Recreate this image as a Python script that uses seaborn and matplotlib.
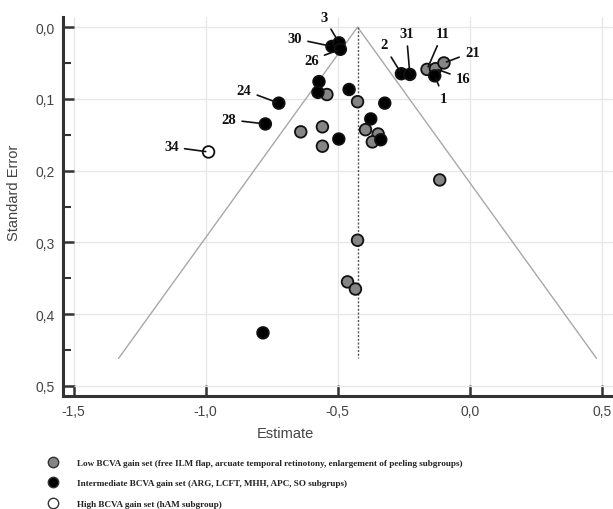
import matplotlib
matplotlib.use("Agg")
import matplotlib.pyplot as plt
import seaborn as sns
import pandas as pd
import numpy as np
from matplotlib.ticker import FuncFormatter, MultipleLocator
from matplotlib.lines import Line2D

# ---------------- data ----------------
low_est = [-0.162, -0.130, -0.098, -0.541, -0.425, -0.395, -0.347, -0.369,
           -0.558, -0.558, -0.640, -0.114, -0.425, -0.463, -0.433]
low_se = [0.059, 0.058, 0.050, 0.094, 0.104, 0.143, 0.149, 0.160,
          0.139, 0.166, 0.146, 0.213, 0.297, 0.355, 0.365]
low_id = ["11", "16", "21", "", "", "", "", "", "", "", "", "", "", "", ""]

mid_est = [-0.522, -0.495, -0.490, -0.259, -0.227, -0.133, -0.571, -0.575,
           -0.457, -0.322, -0.375, -0.337, -0.496, -0.723, -0.774, -0.783]
mid_se = [0.027, 0.022, 0.031, 0.065, 0.066, 0.068, 0.076, 0.091,
          0.087, 0.106, 0.128, 0.157, 0.156, 0.106, 0.135, 0.426]
mid_id = ["30", "3", "26", "2", "31", "1", "", "", "", "", "", "", "", "24", "28", ""]

high_est = [-0.989]
high_se = [0.174]
high_id = ["34"]

group_names = ["Low", "Intermediate", "High"]
legend_labels = [
    "Low BCVA gain set (free ILM flap, arcuate temporal retinotony, enlargement of peeling subgroups)",
    "Intermediate BCVA gain set (ARG, LCFT, MHH, APC, SO subgrups)",
    "High BCVA gain set (hAM subgroup)",
]

pooled = -0.425
se_max = 0.4616

# label text positions (data coords) for numbered studies
label_pos = {
    "3": (-0.553, -0.014), "30": (-0.663, 0.016), "26": (-0.600, 0.046),
    "2": (-0.326, 0.025), "31": (-0.240, 0.009), "11": (-0.103, 0.009),
    "21": (0.010, 0.035), "16": (-0.025, 0.072), "1": (-0.098, 0.099),
    "24": (-0.855, 0.088), "28": (-0.913, 0.129), "34": (-1.130, 0.167),
}

df = pd.DataFrame({
    "Estimate": low_est + mid_est + high_est,
    "SE": low_se + mid_se + high_se,
    "group": [group_names[0]] * len(low_est) + [group_names[1]] * len(mid_est)
             + [group_names[2]] * len(high_est),
    "id": low_id + mid_id + high_id,
})

palette = {"Low": "#858585", "Intermediate": "#000000", "High": "#ffffff"}

# ---------------- figure ----------------
sns.set_theme(style="white")
plt.rcParams["font.family"] = ["Liberation Sans", "DejaVu Sans"]

fig = plt.figure(figsize=(6.13, 5.10), dpi=100)
ax = fig.add_axes([63 / 613, 1 - 397 / 510, 550 / 613, 379 / 510])

# funnel
ax.plot([pooled - 1.96 * se_max, pooled, pooled + 1.96 * se_max],
        [se_max, 0, se_max], color="#a8a8a8", lw=1.0, zorder=2)
ax.plot([pooled, pooled], [0, se_max], color="#555555", lw=1.0,
        linestyle=(0, (1.5, 1.2)), zorder=2)

sns.scatterplot(data=df, x="Estimate", y="SE", hue="group",
                hue_order=group_names, palette=palette, s=70,
                edgecolor="#111111", linewidth=1.3, ax=ax, zorder=5,
                legend=False)

# labels with leader lines
for _, r in df.iterrows():
    if r["id"]:
        tx, ty = label_pos[r["id"]]
        ax.annotate(r["id"], xy=(r["Estimate"], r["SE"]), xytext=(tx, ty),
                    ha="center", va="center", fontsize=10.5, fontweight="bold",
                    family=["Liberation Serif", "DejaVu Serif"], color="#111111",
                    annotation_clip=False,
                    arrowprops=dict(arrowstyle="-", color="#111111", lw=1.2,
                                    shrinkA=2, shrinkB=2), zorder=6)

ax.set_xlim(-1.54, 0.542)
ax.set_ylim(0.514, -0.014)
ax.xaxis.set_major_locator(MultipleLocator(0.5))
ax.yaxis.set_major_locator(MultipleLocator(0.1))
ax.yaxis.set_minor_locator(MultipleLocator(0.05))
fmt = FuncFormatter(lambda v, p: f"{v:.1f}".replace(".", ",").replace("-0,0", "0,0"))
ax.xaxis.set_major_formatter(fmt)
ax.yaxis.set_major_formatter(fmt)

ax.grid(True, which="major", color="#e6e6e6", lw=0.9)
ax.set_axisbelow(True)
for s in ["top", "right"]:
    ax.spines[s].set_visible(False)
for s in ["left", "bottom"]:
    ax.spines[s].set_color("#333333")
    ax.spines[s].set_linewidth(2.2)
ax.tick_params(axis="both", which="major", direction="in", length=8, width=1.8,
               color="#333333", labelsize=10, labelcolor="#444444", pad=6,
               left=True, bottom=True)
ax.tick_params(axis="y", which="minor", direction="in", length=6, width=1.5,
               color="#333333", left=True)

ax.set_xlabel("Estimate", fontsize=10.5, color="#444444")
ax.set_ylabel("Standard Error", fontsize=10.5, color="#444444")
ax.xaxis.set_label_coords((285 - 63) / 550, -(427 - 397) / 379)
ax.yaxis.set_label_coords(-(63 - 21) / 550, (397 - 193) / 379)

handles = [Line2D([], [], marker="o", linestyle="", markersize=7.5,
                  markerfacecolor=palette[g], markeredgecolor="#333333",
                  markeredgewidth=1.0) for g in group_names]
leg = fig.legend(handles, legend_labels, loc="upper left",
                 bbox_to_anchor=(45 / 613, 1 - 456 / 510), frameon=False,
                 prop={"family": ["Liberation Serif", "DejaVu Serif"],
                       "weight": "bold", "size": 6.6},
                 labelspacing=1.3, handletextpad=2.1, borderaxespad=0,
                 handlelength=1.0)
for t in leg.get_texts():
    t.set_color("#222222")

fig.savefig("out.png", dpi=100)
